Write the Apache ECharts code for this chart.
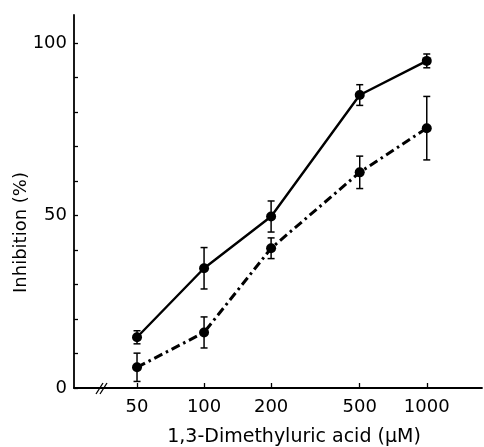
<!DOCTYPE html>
<html>
<head>
<meta charset="utf-8">
<script src="https://cdn.jsdelivr.net/npm/echarts@6/dist/echarts.min.js"></script>
<style>html,body{margin:0;padding:0;background:#fff}#c{width:484px;height:447px}</style>
</head>
<body>
<div id="c"></div>
<script>
const concentrations = [50, 100, 200, 500, 1000];
const xTickLabels = [50, 100, 200, 500, 1000];
const yTickLabels = [0, 50, 100];
const yMinorTicks = [0, 10, 20, 30, 40, 50, 60, 70, 80, 90, 100];
const solidMean = [14.7, 34.7, 49.7, 84.9, 94.8];
const solidErr = [1.9, 6.0, 4.5, 3.0, 2.0];
const dashMean = [6.0, 16.1, 40.5, 62.5, 75.3];
const dashErr = [4.1, 4.5, 3.0, 4.7, 9.2];

const lx = v => Math.log10(v);
const solidData = concentrations.map((c, i) => [lx(c), solidMean[i]]);
const dashData = concentrations.map((c, i) => [lx(c), dashMean[i]]);
const solidErrData = concentrations.map((c, i) => [lx(c), solidMean[i] - solidErr[i], solidMean[i] + solidErr[i]]);
const dashErrData = concentrations.map((c, i) => [lx(c), dashMean[i] - dashErr[i], dashMean[i] + dashErr[i]]);

function errRender(params, api) {
  const x = api.value(0), lo = api.value(1), hi = api.value(2);
  const a = api.coord([x, lo]), b = api.coord([x, hi]);
  const w = 3.5;
  const st = { stroke: '#000', lineWidth: 1.5 };
  return {
    type: 'group',
    children: [
      { type: 'line', shape: { x1: a[0], y1: a[1], x2: b[0], y2: b[1] }, style: st },
      { type: 'line', shape: { x1: a[0] - w, y1: a[1], x2: a[0] + w, y2: a[1] }, style: st },
      { type: 'line', shape: { x1: b[0] - w, y1: b[1], x2: b[0] + w, y2: b[1] }, style: st }
    ]
  };
}

const font = 'DejaVu Sans';
const chart = echarts.init(document.getElementById('c'), null, { renderer: 'canvas' });
chart.setOption({
  animation: false,
  backgroundColor: '#fff',
  grid: { left: 74, top: 15, right: 2, bottom: 59, containLabel: false, outerBoundsMode: 'none' },
  xAxis: {
    type: 'value',
    min: 1.416, max: 3.248,
    name: '1,3-Dimethyluric acid (\u00b5M)',
    nameLocation: 'middle',
    nameGap: 40,
    nameMoveOverlap: false,
    nameTextStyle: { color: '#000', fontFamily: font, fontSize: 19, padding: [0, 0, 0, 32] },
    axisLine: { lineStyle: { color: '#000', width: 1.8 } },
    axisTick: { inside: true, length: 5, customValues: xTickLabels.map(lx), lineStyle: { color: '#000', width: 1.3 } },
    axisLabel: { customValues: xTickLabels.map(lx), formatter: v => String(Math.round(Math.pow(10, v))), color: '#000', fontFamily: font, fontSize: 18, margin: 10 },
    splitLine: { show: false }
  },
  yAxis: {
    type: 'value',
    min: 0, max: 108.1,
    name: 'Inhibition (%)',
    nameLocation: 'middle',
    nameGap: 44,
    nameMoveOverlap: false,
    nameTextStyle: { color: '#000', fontFamily: font, fontSize: 18, padding: [0, 62, 0, 0] },
    axisLine: { lineStyle: { color: '#000', width: 1.8 } },
    axisTick: { inside: true, length: 4, customValues: yMinorTicks, lineStyle: { color: '#000', width: 1.3 } },
    axisLabel: { customValues: yTickLabels, color: '#000', fontFamily: font, fontSize: 18, margin: 7 },
    splitLine: { show: false }
  },
  series: [
    { type: 'custom', renderItem: errRender, data: solidErrData, z: 1, silent: true },
    { type: 'custom', renderItem: errRender, data: dashErrData, z: 1, silent: true },
    {
      type: 'line', data: solidData, symbol: 'circle', symbolSize: 10, z: 3,
      lineStyle: { color: '#000', width: 2.4 }, itemStyle: { color: '#000' }
    },
    {
      type: 'line', data: dashData, symbol: 'circle', symbolSize: 10, z: 3,
      lineStyle: { color: '#000', width: 3, type: [9, 4, 2.5, 4] }, itemStyle: { color: '#000' }
    }
  ],
  graphic: [
    { type: 'line', shape: { x1: 96, y1: 394, x2: 103, y2: 383 }, style: { stroke: '#000', lineWidth: 1.3 } },
    { type: 'line', shape: { x1: 100, y1: 394, x2: 107, y2: 383 }, style: { stroke: '#000', lineWidth: 1.3 } }
  ]
});
</script>
</body>
</html>
